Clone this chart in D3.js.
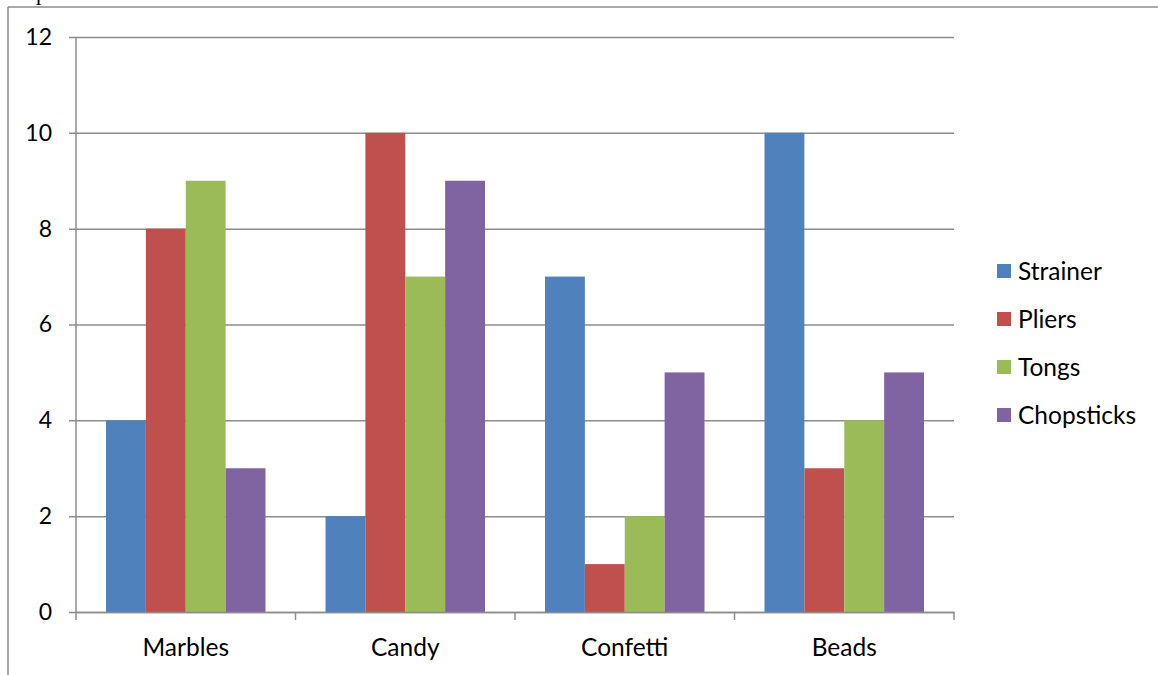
<!DOCTYPE html>
<html>
<head>
<meta charset="utf-8">
<script src="https://cdn.jsdelivr.net/npm/d3@7"></script>
<style>
  html, body { margin: 0; padding: 0; background: #fff; }
  svg { display: block; }
  text { font-family: Lato, "Liberation Sans", sans-serif; fill: #000; }
</style>
</head>
<body>
<svg id="chart" width="1158" height="675"></svg>
<script>
const categories = ["Marbles", "Candy", "Confetti", "Beads"];
const seriesNames = ["Strainer", "Pliers", "Tongs", "Chopsticks"];
const strainer = [4, 2, 7, 10];
const pliers = [8, 10, 1, 3];
const tongs = [9, 7, 2, 4];
const chopsticks = [3, 9, 5, 5];
const yTicks = [0, 2, 4, 6, 8, 10, 12];
const colors = ["#4F81BD", "#C0504D", "#9BBB59", "#8064A2"];

const seriesValues = [strainer, pliers, tongs, chopsticks];

const svg = d3.select("#chart");
const W = 1158, H = 675;
const plot = { left: 76, right: 954, top: 37, bottom: 612 };
const FS = "24.5px";

// outer document frame lines (partially visible)
svg.append("line").attr("x1", 8).attr("x2", W).attr("y1", 7).attr("y2", 7)
  .attr("stroke", "#8c8c8c").attr("stroke-width", 1.5);
svg.append("line").attr("x1", 8).attr("x2", 8).attr("y1", 7).attr("y2", H)
  .attr("stroke", "#8c8c8c").attr("stroke-width", 1.5);
svg.append("text").attr("x", 36).attr("y", 0)
  .style("font-family", "'Liberation Serif', serif").style("font-size", "22px").text("p");

const y = d3.scaleLinear().domain([0, 12]).range([plot.bottom, plot.top]);
const x0 = d3.scaleBand().domain(categories).range([plot.left, plot.right]).paddingInner(0).paddingOuter(0);
const groupPad = 30;
const x1 = d3.scaleBand().domain(seriesNames)
  .range([groupPad, x0.bandwidth() - groupPad]).padding(0);

// gridlines
const yAxis = d3.axisLeft(y).tickValues(yTicks).tickSize(-(plot.right - plot.left)).tickPadding(24)
  .tickFormat(d3.format("d"));
const gy = svg.append("g").attr("transform", `translate(${plot.left},0)`).call(yAxis);
gy.select(".domain").remove();
gy.selectAll(".tick line").attr("stroke", "#8c8c8c").attr("stroke-width", 1.5).attr("x1", -7);
gy.selectAll(".tick text").style("font-size", "23px").style("font-family", "Lato, sans-serif").attr("fill", "#000");

// bars
const groups = svg.append("g").selectAll("g").data(categories).join("g")
  .attr("transform", d => `translate(${x0(d)},0)`);
groups.selectAll("rect").data((d, i) => seriesNames.map((s, j) => ({ s, j, v: seriesValues[j][i] })))
  .join("rect")
  .attr("x", d => x1(d.s))
  .attr("width", x1.bandwidth())
  .attr("y", d => y(d.v))
  .attr("height", d => y(0) - y(d.v))
  .attr("fill", d => colors[d.j]);

// y axis line
svg.append("line").attr("x1", plot.left).attr("x2", plot.left).attr("y1", plot.top).attr("y2", plot.bottom)
  .attr("stroke", "#8c8c8c").attr("stroke-width", 1.5);

// x axis
const xAxis = d3.axisBottom(x0).tickSize(0).tickPadding(24);
const gx = svg.append("g").attr("transform", `translate(0,${plot.bottom})`).call(xAxis);
gx.select(".domain").attr("stroke", "#8c8c8c").attr("stroke-width", 1.5);
gx.selectAll(".tick text").style("font-size", FS).style("font-family", "Lato, sans-serif").attr("fill", "#000")
  .attr("y", 35).attr("dy", "0.35em");
// category boundary ticks
const bounds = [plot.left].concat(categories.map(c => x0(c) + x0.bandwidth()));
gx.selectAll(".bound").data(bounds).join("line").attr("class", "bound")
  .attr("x1", d => d).attr("x2", d => d).attr("y1", 0).attr("y2", 8)
  .attr("stroke", "#8c8c8c").attr("stroke-width", 1.5);

// legend
const legend = svg.append("g").attr("transform", "translate(997,0)");
const ly = d3.scalePoint().domain(seriesNames).range([271, 415]);
const li = legend.selectAll("g").data(seriesNames).join("g")
  .attr("transform", d => `translate(0,${ly(d)})`);
li.append("rect").attr("x", 0).attr("y", -7).attr("width", 14).attr("height", 14)
  .attr("fill", (d, i) => colors[i]);
li.append("text").attr("x", 21).attr("y", 0).attr("dy", "0.35em")
  .style("font-size", FS).text(d => d);
</script>
</body>
</html>
